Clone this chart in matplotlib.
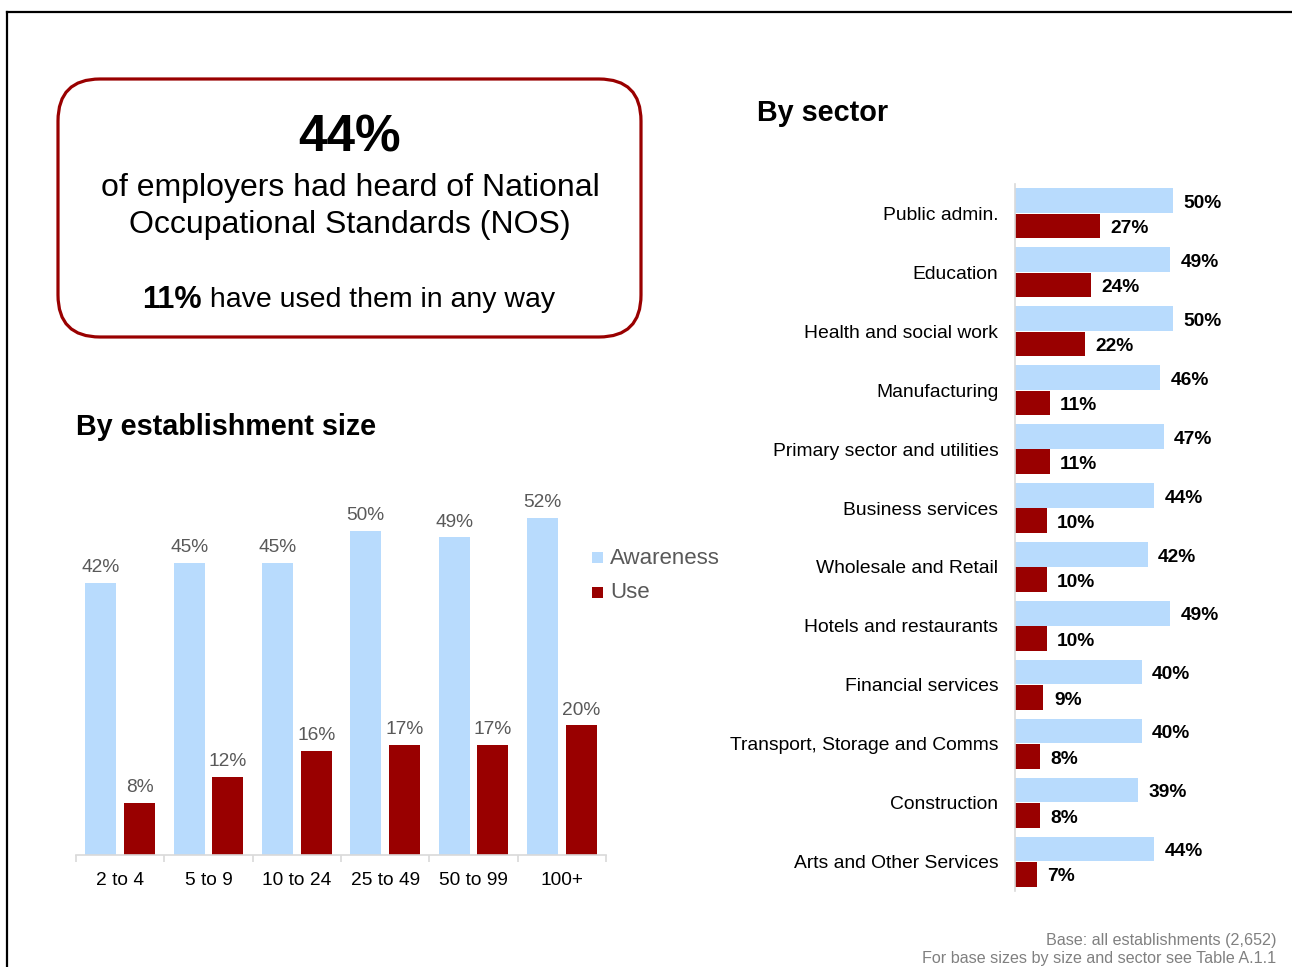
import matplotlib
matplotlib.use("Agg")
import matplotlib.pyplot as plt
from matplotlib.patches import FancyBboxPatch, Rectangle
from matplotlib.lines import Line2D
import numpy as np

plt.rcParams['font.family'] = ['Liberation Sans', 'DejaVu Sans']

# ---------------- data ----------------
series_names = ["Awareness", "Use"]
size_categories = ["2 to 4", "5 to 9", "10 to 24", "25 to 49", "50 to 99", "100+"]
size_awareness = [42, 45, 45, 50, 49, 52]
size_use = [8, 12, 16, 17, 17, 20]

sectors = ["Public admin.", "Education", "Health and social work", "Manufacturing",
           "Primary sector and utilities", "Business services", "Wholesale and Retail",
           "Hotels and restaurants", "Financial services", "Transport, Storage and Comms",
           "Construction", "Arts and Other Services"]
sector_awareness = [50, 49, 50, 46, 47, 44, 42, 49, 40, 40, 39, 44]
sector_use = [27, 24, 22, 11, 11, 10, 10, 10, 9, 8, 8, 7]

headline_pct = "44%"
used_pct = "11%"

LIGHT = "#B8DBFD"
DARK = "#990000"
W, H = 1292, 967

fig = plt.figure(figsize=(W / 100, H / 100), dpi=100)

def px_axes(left, top, right, bottom):
    return fig.add_axes([left / W, 1 - bottom / H, (right - left) / W, (bottom - top) / H])

# background axes in pixel coordinates
bg = fig.add_axes([0, 0, 1, 1])
bg.set_xlim(0, W)
bg.set_ylim(H, 0)
bg.axis("off")

# outer border (top & left)
bg.add_line(Line2D([7, 7], [12, H + 5], color="black", lw=1.6))
bg.add_line(Line2D([7, W + 5], [12, 12], color="black", lw=1.6))

# rounded headline box
box = FancyBboxPatch((58, 79), 641 - 58, 337 - 79,
                     boxstyle="round,pad=0,rounding_size=42",
                     fc="white", ec=DARK, lw=2.3)
bg.add_patch(box)
bg.text(350, 138, headline_pct, ha="center", va="center", fontsize=37, fontweight="bold")
bg.text(350, 188, "of employers had heard of National", ha="center", va="center", fontsize=23)
bg.text(350, 225, "Occupational Standards (NOS)", ha="center", va="center", fontsize=23)
bg.text(202, 300, used_pct, ha="right", va="center", fontsize=22, fontweight="bold")
bg.text(202, 300, " have used them in any way", ha="left", va="center", fontsize=20.5)

# titles
bg.text(76, 427, "By establishment size", ha="left", va="center", fontsize=20.7, fontweight="bold")
bg.text(757, 113, "By sector", ha="left", va="center", fontsize=20.7, fontweight="bold")

# footer
bg.text(1276, 940, "Base: all establishments (2,652)", ha="right", va="center",
        fontsize=11.6, color="#808080")
bg.text(1276, 958, "For base sizes by size and sector see Table A.1.1", ha="right",
        va="center", fontsize=11.6, color="#808080")

# legend (manual)
for i, (name, col) in enumerate(zip(series_names, [LIGHT, DARK])):
    yc = 557 + i * 35
    bg.add_patch(Rectangle((592, yc - 5), 11, 11, fc=col, ec="none"))
    bg.text(610, yc + 1, name, ha="left", va="center", fontsize=16, color="#595959")

# ---------------- left chart: by establishment size ----------------
axL = px_axes(76, 466, 606, 855)
x = np.arange(len(size_categories))
off, bw = 0.22, 0.35
b1 = axL.bar(x - off, size_awareness, width=bw, color=LIGHT)
b2 = axL.bar(x + off, size_use, width=bw, color=DARK)
for bars, vals in [(b1, size_awareness), (b2, size_use)]:
    for r, v in zip(bars, vals):
        axL.annotate(f"{v}%", (r.get_x() + r.get_width() / 2, v), xytext=(0, 11),
                     textcoords="offset points", ha="center", va="center",
                     fontsize=13.8, color="#595959")
axL.set_xlim(-0.5, len(size_categories) - 0.5)
axL.set_ylim(0, 60)
axL.set_xticks(x)
axL.set_xticklabels(size_categories, fontsize=13.8)
axL.tick_params(axis="x", length=0, pad=12)
axL.set_xticks(np.arange(-0.5, len(size_categories)), minor=True)
axL.tick_params(axis="x", which="minor", length=5, color="#D9D9D9", width=1.2)
axL.set_yticks([])
for s in ["top", "right", "left"]:
    axL.spines[s].set_visible(False)
axL.spines["bottom"].set_color("#D9D9D9")
axL.spines["bottom"].set_linewidth(1.2)
axL.patch.set_alpha(0)

# ---------------- right chart: by sector ----------------
axR = px_axes(1015, 184, 1268, 891)
y = np.arange(len(sectors))
hoff, bh = 0.215, 0.42
r1 = axR.barh(y - hoff, sector_awareness, height=bh, color=LIGHT)
r2 = axR.barh(y + hoff, sector_use, height=bh, color=DARK)
for bars, vals in [(r1, sector_awareness), (r2, sector_use)]:
    for r, v in zip(bars, vals):
        axR.annotate(f"{v}%", (v, r.get_y() + r.get_height() / 2), xytext=(7.5, -2),
                     textcoords="offset points", ha="left", va="center",
                     fontsize=13.8, fontweight="bold")
axR.set_xlim(0, 80)
axR.set_ylim(len(sectors) - 0.5, -0.5)
axR.set_yticks(y)
axR.set_yticklabels(sectors, fontsize=13.9)
axR.tick_params(axis="y", length=0, pad=12)
axR.set_xticks([])
for s in ["top", "right", "bottom"]:
    axR.spines[s].set_visible(False)
axR.spines["left"].set_color("#D9D9D9")
axR.spines["left"].set_linewidth(1.2)
axR.patch.set_alpha(0)

fig.savefig("out.png", dpi=100)
